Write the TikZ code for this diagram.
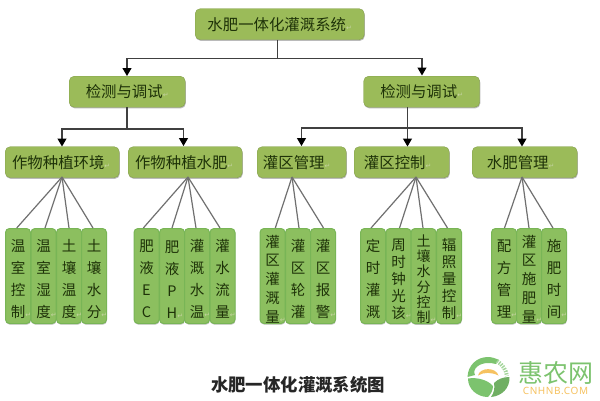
\documentclass[tikz,border=0pt]{standalone}
\usepackage{fontspec}
\setmainfont{Noto Sans CJK SC}
\newfontfamily\symfont{DejaVu Sans}
\newfontfamily\logofont[LetterSpace=6]{Noto Sans}
\usetikzlibrary{arrows.meta,shadows}
\definecolor{olivebox}{HTML}{9BBB59}
\definecolor{leafbox}{HTML}{8CBF5F}
\definecolor{leafedge}{HTML}{78B556}
\definecolor{inktext}{HTML}{1E3208}
\definecolor{linegrey}{HTML}{404040}
\definecolor{fangrey}{HTML}{707070}
\definecolor{logogreen}{HTML}{7CC36E}
\definecolor{logoorange}{HTML}{F6C260}
\definecolor{retgrey}{HTML}{C4D2A0}
\newcommand{\ret}{{\symfont\fontsize{7}{7}\selectfont\textcolor{retgrey}{↵}}}
\newcommand{\lret}{\makebox[0pt][l]{\ret}}
\tikzset{
  x=1pt,y=-1pt,
  boxbase/.style={rounded corners=5pt,fill=olivebox,draw=olivebox!85!black,line width=.4pt,
    drop shadow={shadow xshift=.6pt,shadow yshift=-1.2pt,fill=black!45,opacity=.6},
    text=inktext,inner sep=0pt,anchor=north west},
  topbox/.style={boxbase,font=\fontsize{15.4}{15.4}\selectfont,minimum height=31pt},
  leaf/.style={rounded corners=4pt,fill=leafbox,draw=leafedge,line width=1pt,
    drop shadow={shadow xshift=.4pt,shadow yshift=-1.2pt,fill=black!40,opacity=.6},
    text=inktext,inner sep=0pt,anchor=north west,minimum height=95pt,minimum width=25pt,
    text width=23pt,align=center,
    execute at begin node={\rule{0pt}{18pt}}},
  lfour/.style={leaf,font=\fontsize{14.5}{22}\selectfont},
  lfive/.style={leaf,font=\fontsize{14.5}{18.7}\selectfont},
  lfivetight/.style={leaf,font=\fontsize{14.5}{17}\selectfont},
  lsix/.style={leaf,font=\fontsize{14}{15.2}\selectfont},
  trunk/.style={draw=linegrey,line width=1.2pt},
  arrowline/.style={trunk,-{Triangle[length=8pt,width=9pt,fill=black,color=black]}},
  fan/.style={draw=fangrey,line width=1.2pt},
}
\begin{document}
\begin{tikzpicture}
\useasboundingbox (0,0) rectangle (600,400);
\fill[white] (0,0) rectangle (600,400);

\coordinate (f1) at (62,177);
\coordinate (f2) at (188,177);
\coordinate (f3) at (292,177);
\coordinate (f4) at (416,177);
\coordinate (f5) at (522,177);

% leaves
\node[lfour] (a1) at (5,228) {温\\室\\控\\制\lret};
\node[lfour] (a2) at (30.5,228) {温\\室\\湿\\度\lret};
\node[lfour] (a3) at (56,228) {土\\壤\\温\\度\lret};
\node[lfour] (a4) at (81,228) {土\\壤\\水\\分\lret};

\node[lfour] (b1) at (133.5,228) {肥\\液\\E\\C};
\node[lfour] (b2) at (159,228) {肥\\液\\P\\H\lret};
\node[lfour] (b3) at (184,228) {灌\\溉\\水\\温\lret};
\node[lfour] (b4) at (209.5,228) {灌\\水\\流\\量\lret};

\node[lfive] (c1) at (259.5,228) {灌\\区\\灌\\溉\\量\lret};
\node[lfour] (c2) at (285,228) {灌\\区\\轮\\灌};
\node[lfour] (c3) at (310,228) {灌\\区\\报\\警\lret};

\node[lfour] (d1) at (360,228) {定\\时\\灌\\溉};
\node[lfivetight] (d2) at (385.5,228) {周\\时\\钟\\光\\该\lret};
\node[lsix] (d3) at (410.5,228) {土\\壤\\水\\分\\控\\制\lret};
\node[lfivetight] (d4) at (436,228) {辐\\照\\量\\控\\制\lret};

\node[lfour] (e1) at (491,228) {配\\方\\管\\理\lret};
\node[lfive] (e2) at (516,228) {灌\\区\\施\\肥\\量\lret};
\node[lfour] (e3) at (541,228) {施\\肥\\时\\间\lret};

% top boxes
\node[topbox,minimum width=169pt] (root) at (195,8.5) {水肥一体化灌溉系统\ret};
\node[topbox,minimum width=116pt] (mL) at (69,76) {检测与调试\ret};
\node[topbox,minimum width=116pt] (mR) at (363.5,76) {检测与调试\ret};
\node[topbox,minimum width=114pt] (g1) at (5,146.5) {作物种植环境\ret\hspace*{2pt}};
\node[topbox,minimum width=114pt] (g2) at (128,146.5) {作物种植水肥\ret\hspace*{2pt}};
\node[topbox,minimum width=89pt] (g3) at (257,146.5) {灌区管理\ret\hspace*{10pt}};
\node[topbox,minimum width=95pt] (g4) at (354,146.5) {灌区控制\ret\hspace*{8pt}};
\node[topbox,minimum width=105pt] (g5) at (472,146.5) {水肥管理\ret\hspace*{8pt}};

% fans
\foreach \n/\tx in {a1/16.7,a2/45,a3/69,a4/93}{
  \coordinate (t\n) at (\tx,228);
  \draw[fan] (f1) -- (t\n);}
\foreach \n/\tx in {b1/143.3,b2/172,b3/196,b4/220}{
  \coordinate (t\n) at (\tx,228);
  \draw[fan] (f2) -- (t\n);}
\foreach \n/\tx in {c1/275.3,c2/299,c3/323.5}{
  \coordinate (t\n) at (\tx,228);
  \draw[fan] (f3) -- (t\n);}
\foreach \n/\tx in {d1/371,d2/399.5,d3/423,d4/447.5}{
  \coordinate (t\n) at (\tx,228);
  \draw[fan] (f4) -- (t\n);}
\foreach \n/\tx in {e1/504.5,e2/529,e3/553}{
  \coordinate (t\n) at (\tx,228);
  \draw[fan] (f5) -- (t\n);}

% tree connectors
\coordinate (r0) at (277.5,39.5);
\coordinate (rb) at (277.5,58.5);
\coordinate (l0) at (127,107);
\coordinate (lb) at (127,129);
\coordinate (q0) at (407.5,107);
\coordinate (qb) at (407.5,128);
\draw[trunk] (r0) -- (rb);
\draw[arrowline] (rb) -| (mL.north -| l0);
\draw[arrowline] (rb) -| (422,75.5);
\draw[trunk] (l0) -- (lb);
\draw[arrowline] (lb) -| (g1.north -| f1);
\draw[arrowline] (lb) -| (183.5,146);
\draw[trunk] (q0) -- (qb);
\draw[arrowline] (qb) -| (301.5,146);
\draw[arrowline] (qb) -- (g4.north -| qb);
\draw[arrowline] (qb) -| (g5.north -| f5);

% caption
\node[font=\fontsize{17.4}{17.4}\selectfont\bfseries,text=black!85] (cap) at (298,385) {水肥一体化灌溉系统图};

% logo: arc, dotted sweep, sun, two hills
\fill[logogreen] (467.5,377) .. controls (468,365) and (477,357) .. (488,357)
  .. controls (491,357) and (495,358) .. (499,360) -- (496,364)
  .. controls (493,363) and (490,363) .. (488,363)
  .. controls (479,363) and (472,369) .. (475,375) -- cycle;
\draw[logogreen!70,line width=4pt,dash pattern=on 1.4pt off 1.2pt]
  (497,361) .. controls (503,365) and (506,370) .. (507,376);
\fill[logoorange] (478,375.5) .. controls (480,367) and (496,367) .. (498.5,375.5)
  .. controls (491,372) and (484,372) .. (478,375.5) -- cycle;
\fill[logogreen] (468,378.5) .. controls (477,377) and (488,380) .. (493,386)
  .. controls (493,390) and (491,394) .. (488,397)
  .. controls (477,397) and (468,389) .. (468,378.5) -- cycle;
\fill[logogreen!90!black] (494,383) .. controls (498,379) and (503,377) .. (509.5,377)
  .. controls (510,388) and (502,396) .. (491,397)
  .. controls (494,393) and (495,388) .. (494,383) -- cycle;
\node[font=\logofont\fontsize{25}{25}\selectfont,text=logogreen,font=\fontsize{25}{25}\selectfont] (brand) at (555.5,372.5) {惠农网};
\node[font=\logofont\bfseries\fontsize{10}{10}\selectfont,text=logoorange] (brandlat) at (555.5,390.5) {CNHNB.COM};
\end{tikzpicture}
\end{document}
